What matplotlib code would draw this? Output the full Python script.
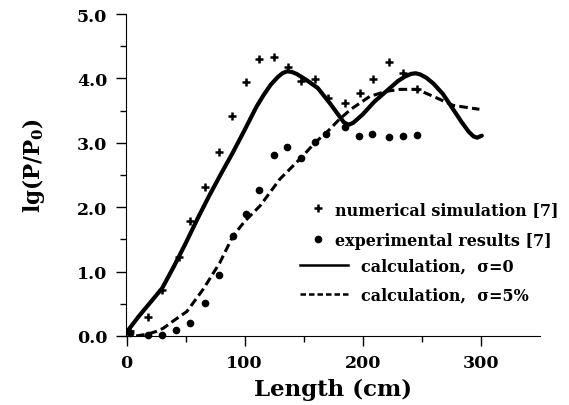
import numpy as np
import matplotlib
matplotlib.use('Agg')
import matplotlib.pyplot as plt
from matplotlib.lines import Line2D

# Pontos
sim_x = [3, 18, 30, 44, 54, 66, 78, 89, 101, 112, 125, 137, 148, 160, 171,
         185, 198, 209, 222, 234, 246]
sim_y = [0.07, 0.30, 0.71, 1.23, 1.78, 2.31, 2.85, 3.41, 3.94, 4.30, 4.34,
         4.17, 3.96, 3.99, 3.69, 3.62, 3.77, 3.99, 4.26, 4.09, 3.84]

exp_x = [3, 18, 30, 42, 54, 66, 78, 90, 101, 112, 125, 136, 148, 160, 169,
         185, 197, 208, 222, 234, 246]
exp_y = [0.05, 0.02, 0.01, 0.10, 0.20, 0.51, 0.94, 1.56, 1.89, 2.26, 2.81,
         2.94, 2.77, 3.02, 3.14, 3.25, 3.11, 3.14, 3.09, 3.10, 3.12]

# curva calculada, sigma = 0
calc0_x = [0, 10, 20, 30, 40, 50, 60, 70, 80, 90, 100, 110, 116, 122, 128,
           132, 136, 140, 144, 152, 162, 172, 180, 184, 188, 192, 200, 210,
           220, 230, 236, 241, 245, 249, 254, 260, 268, 276, 284, 290, 294,
           297, 301]
calc0_y = [0.06, 0.30, 0.52, 0.74, 1.08, 1.44, 1.82, 2.18, 2.52, 2.85, 3.20,
           3.56, 3.74, 3.90, 4.02, 4.08, 4.11, 4.10, 4.07, 3.98, 3.85, 3.62,
           3.42, 3.32, 3.28, 3.31, 3.44, 3.64, 3.80, 3.96, 4.03, 4.07, 4.08,
           4.06, 4.01, 3.92, 3.76, 3.54, 3.32, 3.17, 3.10, 3.08, 3.11]

# curva calculada, sigma = 5%
calc5_x = [8, 18, 25, 31, 40, 51, 65, 79, 90, 100, 113, 130, 148, 160, 170,
           180, 190, 206, 220, 232, 246, 260, 277, 299]
calc5_y = [0.0, 0.03, 0.07, 0.12, 0.24, 0.38, 0.73, 1.14, 1.55, 1.78, 2.02,
           2.44, 2.77, 3.01, 3.17, 3.36, 3.52, 3.72, 3.80, 3.83, 3.83, 3.72,
           3.58, 3.52]

x_ticks = [0, 100, 200, 300]
y_ticks = [0.0, 1.0, 2.0, 3.0, 4.0, 5.0]

plt.rcParams['font.family'] = 'DejaVu Serif'
plt.rcParams['font.weight'] = 'bold'
plt.rcParams['mathtext.fontset'] = 'dejavuserif'

fig = plt.figure(figsize=(5.69, 4.06), dpi=100)
ax = fig.add_axes([0.2206, 0.170, 0.7277, 0.793])

ax.plot(calc0_x, calc0_y, color='black', lw=3.0, solid_capstyle='round',
        solid_joinstyle='round')
ax.plot(calc5_x, calc5_y, color='black', lw=2.2, dashes=(2.8, 1.4))
ax.plot(sim_x, sim_y, '+', color='black', ms=6, mew=1.8, clip_on=False)
ax.plot(exp_x, exp_y, 'o', color='black', ms=4.5, clip_on=False)

# eixos
for lado in ['top', 'right']:
    ax.spines[lado].set_visible(False)
ax.set_xlim(-1, 350)
ax.set_ylim(0, 5)
ax.set_xticks(x_ticks)
ax.set_xticks([50, 150, 250], minor=True)
ax.set_yticks(y_ticks)
ax.set_yticklabels(['%.1f' % v for v in y_ticks])
ax.set_yticks(np.arange(0.5, 5, 1), minor=True)
ax.tick_params(which='major', direction='out', length=7, width=1,
               labelsize=12.5, pad=6)
ax.tick_params(which='minor', direction='out', length=4, width=1)

ax.set_xlabel('Length (cm)', fontsize=16.5, fontweight='bold', labelpad=5)
ax.set_ylabel(r'lg(P/P$_\mathbf{0}$)', fontsize=15.5, fontweight='bold')
ax.yaxis.set_label_coords(-0.19, 0.534)

# legenda em dois blocos, como no original
h1 = [Line2D([], [], ls='none', marker='+', color='black', ms=6, mew=1.8),
      Line2D([], [], ls='none', marker='o', color='black', ms=4.5)]
leg1 = ax.legend(h1, ['numerical simulation [7]', 'experimental results [7]'],
                 loc='upper left', bbox_to_anchor=(310 / 569, 1 - 202 / 406),
                 bbox_transform=fig.transFigure, frameon=False, borderpad=0,
                 borderaxespad=0, handlelength=1.0, handletextpad=0.55,
                 labelspacing=0.85, prop={'size': 11.5, 'weight': 'bold'})
ax.add_artist(leg1)

h2 = [Line2D([], [], color='black', lw=1.8),
      Line2D([], [], color='black', lw=1.8, dashes=(2.2, 1.2))]
ax.legend(h2, ['calculation,  σ=0', 'calculation,  σ=5%'],
          loc='upper left', bbox_to_anchor=(300 / 569, 1 - 259 / 406),
          bbox_transform=fig.transFigure, frameon=False, borderpad=0,
          borderaxespad=0, handlelength=3.0, handletextpad=0.8,
          labelspacing=0.72, prop={'size': 11.5, 'weight': 'bold'})

fig.savefig('out.png', dpi=100)
